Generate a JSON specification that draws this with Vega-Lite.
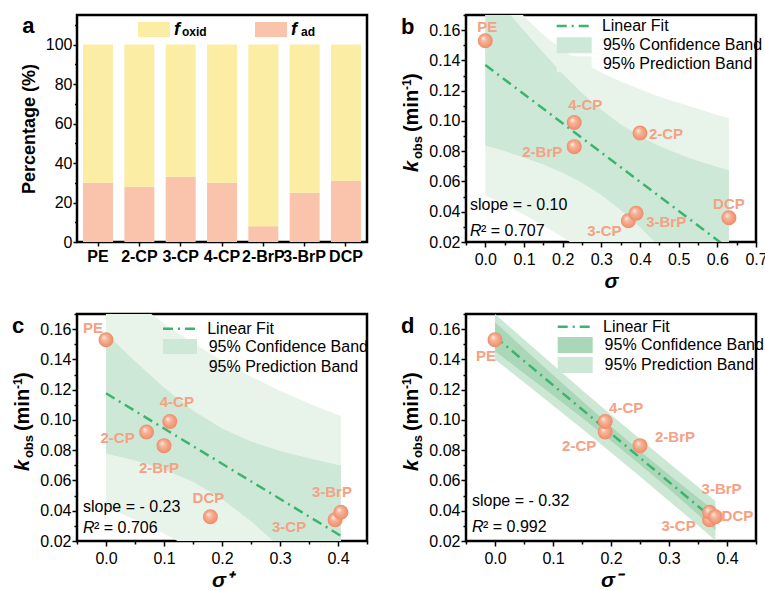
{
  "$schema": "https://vega.github.io/schema/vega-lite/v6.json",
  "background": "white",
  "padding": {"left": 10, "top": 13, "right": 0, "bottom": 0},
  "datasets": {
    "bars": [
      {"cat": "PE", "comp": "f_ad", "value": 30}, {"cat": "PE", "comp": "f_oxid", "value": 70},
      {"cat": "2-CP", "comp": "f_ad", "value": 28}, {"cat": "2-CP", "comp": "f_oxid", "value": 72},
      {"cat": "3-CP", "comp": "f_ad", "value": 33}, {"cat": "3-CP", "comp": "f_oxid", "value": 67},
      {"cat": "4-CP", "comp": "f_ad", "value": 30}, {"cat": "4-CP", "comp": "f_oxid", "value": 70},
      {"cat": "2-BrP", "comp": "f_ad", "value": 8}, {"cat": "2-BrP", "comp": "f_oxid", "value": 92},
      {"cat": "3-BrP", "comp": "f_ad", "value": 25}, {"cat": "3-BrP", "comp": "f_oxid", "value": 75},
      {"cat": "DCP", "comp": "f_ad", "value": 31}, {"cat": "DCP", "comp": "f_oxid", "value": 69}
    ],
    "pts": [
      {"name": "PE", "sigma": 0.0, "sigma_plus": 0.0, "sigma_minus": 0.0, "k": 0.153},
      {"name": "2-CP", "sigma": 0.40, "sigma_plus": 0.07, "sigma_minus": 0.19, "k": 0.092},
      {"name": "3-CP", "sigma": 0.37, "sigma_plus": 0.395, "sigma_minus": 0.37, "k": 0.034},
      {"name": "4-CP", "sigma": 0.23, "sigma_plus": 0.11, "sigma_minus": 0.19, "k": 0.099},
      {"name": "2-BrP", "sigma": 0.23, "sigma_plus": 0.10, "sigma_minus": 0.25, "k": 0.083},
      {"name": "3-BrP", "sigma": 0.39, "sigma_plus": 0.405, "sigma_minus": 0.37, "k": 0.039},
      {"name": "DCP", "sigma": 0.63, "sigma_plus": 0.18, "sigma_minus": 0.38, "k": 0.036}
    ],
    "band_b": [
      {"x": 0.0, "clo": 0.0838, "chi": 0.1902, "plo": 0.0508, "phi": 0.21},
      {"x": 0.05, "clo": 0.0801, "chi": 0.1747, "plo": 0.0447, "phi": 0.188},
      {"x": 0.1, "clo": 0.0758, "chi": 0.1596, "plo": 0.038, "phi": 0.169},
      {"x": 0.15, "clo": 0.0712, "chi": 0.145, "plo": 0.0309, "phi": 0.157},
      {"x": 0.2, "clo": 0.0657, "chi": 0.1311, "plo": 0.0231, "phi": 0.147},
      {"x": 0.25, "clo": 0.0591, "chi": 0.1185, "plo": 0.0148, "phi": 0.139},
      {"x": 0.3, "clo": 0.051, "chi": 0.1072, "plo": 0.0057, "phi": 0.132},
      {"x": 0.35, "clo": 0.0412, "chi": 0.0978, "plo": -0.004, "phi": 0.126},
      {"x": 0.4, "clo": 0.0298, "chi": 0.0898, "plo": -0.0144, "phi": 0.121},
      {"x": 0.45, "clo": 0.0169, "chi": 0.0835, "plo": -0.0254, "phi": 0.116},
      {"x": 0.5, "clo": 0.0028, "chi": 0.0782, "plo": -0.0371, "phi": 0.112},
      {"x": 0.55, "clo": -0.0118, "chi": 0.0736, "plo": -0.0492, "phi": 0.108},
      {"x": 0.6, "clo": -0.0271, "chi": 0.0695, "plo": -0.062, "phi": 0.104},
      {"x": 0.63, "clo": -0.0366, "chi": 0.0674, "plo": -0.07, "phi": 0.102}
    ],
    "band_c": [
      {"x": 0.0, "clo": 0.0779, "chi": 0.1573, "plo": 0.0422, "phi": 0.193},
      {"x": 0.05, "clo": 0.0732, "chi": 0.1388, "plo": 0.0341, "phi": 0.1779},
      {"x": 0.1, "clo": 0.0672, "chi": 0.1214, "plo": 0.0248, "phi": 0.1638},
      {"x": 0.15, "clo": 0.0591, "chi": 0.1063, "plo": 0.0145, "phi": 0.1509},
      {"x": 0.2, "clo": 0.0478, "chi": 0.0944, "plo": 0.003, "phi": 0.1392},
      {"x": 0.25, "clo": 0.033, "chi": 0.0858, "plo": -0.0098, "phi": 0.1286},
      {"x": 0.3, "clo": 0.0161, "chi": 0.0795, "plo": -0.0237, "phi": 0.1193},
      {"x": 0.35, "clo": -0.0023, "chi": 0.0747, "plo": -0.0385, "phi": 0.1109},
      {"x": 0.4, "clo": -0.0213, "chi": 0.0703, "plo": -0.0542, "phi": 0.1032},
      {"x": 0.405, "clo": -0.0235, "chi": 0.0703, "plo": -0.056, "phi": 0.1028}
    ],
    "band_d": [
      {"x": 0.0, "clo": 0.1454, "chi": 0.1646, "plo": 0.14, "phi": 0.17},
      {"x": 0.05, "clo": 0.1309, "chi": 0.1471, "plo": 0.1249, "phi": 0.1531},
      {"x": 0.1, "clo": 0.1163, "chi": 0.1297, "plo": 0.1096, "phi": 0.1364},
      {"x": 0.15, "clo": 0.1015, "chi": 0.1126, "plo": 0.0942, "phi": 0.1198},
      {"x": 0.2, "clo": 0.0863, "chi": 0.0957, "plo": 0.0785, "phi": 0.1035},
      {"x": 0.25, "clo": 0.0706, "chi": 0.0794, "plo": 0.0626, "phi": 0.0874},
      {"x": 0.3, "clo": 0.0543, "chi": 0.0637, "plo": 0.0465, "phi": 0.0715},
      {"x": 0.35, "clo": 0.0375, "chi": 0.0486, "plo": 0.0302, "phi": 0.0558},
      {"x": 0.38, "clo": 0.0272, "chi": 0.0396, "plo": 0.0203, "phi": 0.0465}
    ],
    "fit_b": [{"x": 0.0, "k": 0.137}, {"x": 0.63, "k": 0.0154}],
    "fit_c": [{"x": 0.0, "k": 0.1176}, {"x": 0.405, "k": 0.0234}],
    "fit_d": [{"x": 0.0, "k": 0.155}, {"x": 0.38, "k": 0.0334}],
    "one": [{}]
  },
  "columns": 2,
  "spacing": {"row": 72, "column": 99},
  "bounds": "flush",
  "resolve": {"scale": {"fill": "independent", "color": "independent"}},
  "concat": [
    {
      "width": 290, "height": 227,
      "title": {"text": "a", "offset": -23, "dx": 2},
      "data": {"name": "bars"},
      "resolve": {"axis": {"x": "independent", "y": "independent"}},
      "layer": [
        {
          "transform": [{"calculate": "datum.comp", "as": "comp_sub"}],
          "mark": {"type": "bar"},
          "encoding": {
            "x": {"field": "cat", "type": "nominal", "sort": ["PE", "2-CP", "3-CP", "4-CP", "2-BrP", "3-BrP", "DCP"],
                  "scale": {"paddingInner": 0.274, "paddingOuter": 0.146},
                  "axis": {"title": null, "labelFontWeight": "bold", "labelAngle": 0, "tickSize": 4, "labelPadding": 2, "orient": "bottom"}},
            "y": {"field": "value", "type": "quantitative", "stack": "zero", "scale": {"domain": [0, 115], "nice": false},
                  "axis": {"values": [0, 20, 40, 60, 80, 100], "title": "Percentage (%)", "titlePadding": 7, "tickSize": 4, "orient": "left"}},
            "fill": {"field": "comp", "type": "nominal", "scale": {"domain": ["f_oxid", "f_ad"], "range": ["#fbeda3", "#f9c4ab"]},
                     "legend": {"orient": "none", "legendX": 61, "legendY": 4.5, "direction": "horizontal", "title": null,
                                "symbolType": "M-1.6,-0.75H1.6V0.75H-1.6Z", "symbolSize": 400, "symbolOffset": 6, "symbolStrokeWidth": 0,
                                "labelExpr": "'f'", "labelFontSize": 18, "labelFontStyle": "italic", "labelFontWeight": "bold",
                                "labelOffset": 10, "columnPadding": 75}},
            "opacity": {"field": "comp_sub", "type": "nominal", "scale": {"domain": ["f_oxid", "f_ad"], "range": [1, 1]},
                     "legend": {"orient": "none", "legendX": 93, "legendY": 11, "direction": "horizontal", "title": null,
                                "symbolOpacity": 0, "symbolSize": 1, "symbolStrokeWidth": 0, "symbolType": "square",
                                "labelExpr": "datum.label == 'f_oxid' ? 'oxid' : 'ad'", "labelFontSize": 12, "labelFontWeight": "bold",
                                "labelOffset": 0, "columnPadding": 82}},
            "order": {"field": "comp", "sort": "ascending"}
          }
        },
        {
          "mark": {"type": "point", "opacity": 0},
          "encoding": {
            "x": {"field": "cat", "type": "nominal", "sort": ["PE", "2-CP", "3-CP", "4-CP", "2-BrP", "3-BrP", "DCP"], "axis": null},
            "y": {"field": "value", "type": "quantitative", "axis": {"values": [10, 30, 50, 70, 90, 110], "labels": false, "tickSize": 2.5, "title": null, "orient": "left"}}
          }
        }
      ]
    },
    {
      "width": 290, "height": 227,
      "title": {"text": "b", "offset": -25},
      "resolve": {"axis": {"x": "independent", "y": "independent"}},
      "layer": [
        {
          "data": {"name": "band_b"},
          "mark": {"type": "area", "clip": true},
          "encoding": {
            "x": {"field": "x", "type": "quantitative", "scale": {"domain": [-0.05, 0.7], "nice": false, "zero": false},
                  "axis": {"values": [0, 0.1, 0.2, 0.3, 0.4, 0.5, 0.6, 0.7], "format": ".1f", "title": "σ", "titleFontStyle": "italic", "titleFontSize": 21, "titlePadding": 3, "labelPadding": 4, "orient": "bottom"}},
            "y": {"field": "plo", "type": "quantitative", "scale": {"domain": [0.02, 0.17], "nice": false, "zero": false},
                  "axis": {"values": [0.02, 0.04, 0.06, 0.08, 0.1, 0.12, 0.14, 0.16], "format": ".2f", "title": null, "orient": "left"}},
            "y2": {"field": "phi"},
            "fill": {"datum": "95% Prediction Band", "type": "nominal",
                     "scale": {"domain": ["95% Confidence Band", "95% Prediction Band"], "range": ["#cde8d6", "#e8f4ea"]},
                     "legend": {"orient": "none", "legendX": 90.7, "legendY": 20.3, "title": null, "symbolType": "M-1.75,-0.8H1.75V0.8H-1.75Z", "symbolSize": 400, "symbolOffset": 7.5, "symbolStrokeWidth": 0, "labelOffset": 18.7, "rowPadding": 1}}
          }
        },
        {
          "data": {"name": "band_b"},
          "mark": {"type": "area", "clip": true},
          "encoding": {
            "x": {"field": "x", "type": "quantitative", "axis": {"values": [-0.05, 0.05, 0.15, 0.25, 0.35, 0.45, 0.55, 0.65], "labels": false, "tickSize": 3, "title": null, "orient": "bottom"}},
            "y": {"field": "clo", "type": "quantitative", "axis": {"values": [0.03, 0.05, 0.07, 0.09, 0.11, 0.13, 0.15, 0.17], "labels": false, "tickSize": 3, "title": null, "orient": "left"}},
            "y2": {"field": "chi"},
            "fill": {"datum": "95% Confidence Band", "type": "nominal"}
          }
        },
        {
          "data": {"name": "fit_b"},
          "mark": {"type": "line", "clip": true, "strokeWidth": 2.5, "strokeDash": [10, 5, 2, 5]},
          "encoding": {
            "x": {"field": "x", "type": "quantitative", "axis": null},
            "y": {"field": "k", "type": "quantitative", "axis": null},
            "color": {"datum": "Linear Fit", "type": "nominal", "scale": {"range": ["#3cb46e"]},
                      "legend": {"orient": "none", "legendX": 90.7, "legendY": -0.5, "title": null, "symbolType": "M-1.8,0H1.8", "symbolSize": 400, "symbolOffset": 6.5, "symbolStrokeWidth": 2.5, "symbolDash": [10, 5, 2, 5], "labelOffset": 15.7}}
          }
        },
        {
          "data": {"name": "pts"},
          "mark": {"type": "point", "shape": "circle", "size": 225, "filled": true, "opacity": 1, "strokeWidth": 0,
                   "fill": {"gradient": "radial", "x1": 0.35, "y1": 0.32, "r1": 0, "x2": 0.5, "y2": 0.5, "r2": 0.5,
                            "stops": [{"offset": 0, "color": "#fff4ee"}, {"offset": 0.35, "color": "#f7b69a"}, {"offset": 1, "color": "#ee8b69"}]}},
          "encoding": {"x": {"field": "sigma", "type": "quantitative", "axis": null}, "y": {"field": "k", "type": "quantitative", "axis": null}}
        },
        {"data": {"name": "pts"}, "transform": [{"filter": "datum.name === 'PE'"}], "mark": {"type": "text", "style": "lbl", "color": "#f4a283", "dx": 2, "dy": -14}, "encoding": {"x": {"field": "sigma", "type": "quantitative", "axis": null}, "y": {"field": "k", "type": "quantitative", "axis": null}, "text": {"field": "name"}}},
        {"data": {"name": "pts"}, "transform": [{"filter": "datum.name === '4-CP'"}], "mark": {"type": "text", "style": "lbl", "color": "#f4a283", "dx": 11, "dy": -17}, "encoding": {"x": {"field": "sigma", "type": "quantitative", "axis": null}, "y": {"field": "k", "type": "quantitative", "axis": null}, "text": {"field": "name"}}},
        {"data": {"name": "pts"}, "transform": [{"filter": "datum.name === '2-CP'"}], "mark": {"type": "text", "style": "lbl", "color": "#f4a283", "dx": 26, "dy": 1}, "encoding": {"x": {"field": "sigma", "type": "quantitative", "axis": null}, "y": {"field": "k", "type": "quantitative", "axis": null}, "text": {"field": "name"}}},
        {"data": {"name": "pts"}, "transform": [{"filter": "datum.name === '2-BrP'"}], "mark": {"type": "text", "style": "lbl", "color": "#f4a283", "dx": -32, "dy": 5}, "encoding": {"x": {"field": "sigma", "type": "quantitative", "axis": null}, "y": {"field": "k", "type": "quantitative", "axis": null}, "text": {"field": "name"}}},
        {"data": {"name": "pts"}, "transform": [{"filter": "datum.name === '3-CP'"}], "mark": {"type": "text", "style": "lbl", "color": "#f4a283", "dx": -24, "dy": 10}, "encoding": {"x": {"field": "sigma", "type": "quantitative", "axis": null}, "y": {"field": "k", "type": "quantitative", "axis": null}, "text": {"field": "name"}}},
        {"data": {"name": "pts"}, "transform": [{"filter": "datum.name === '3-BrP'"}], "mark": {"type": "text", "style": "lbl", "color": "#f4a283", "dx": 30, "dy": 9}, "encoding": {"x": {"field": "sigma", "type": "quantitative", "axis": null}, "y": {"field": "k", "type": "quantitative", "axis": null}, "text": {"field": "name"}}},
        {"data": {"name": "pts"}, "transform": [{"filter": "datum.name === 'DCP'"}], "mark": {"type": "text", "style": "lbl", "color": "#f4a283", "dx": 0, "dy": -14}, "encoding": {"x": {"field": "sigma", "type": "quantitative", "axis": null}, "y": {"field": "k", "type": "quantitative", "axis": null}, "text": {"field": "name"}}},
        {"data": {"name": "one"}, "mark": {"type": "text", "style": "note", "color": "black", "text": "slope = - 0.10", "dx": 4}, "encoding": {"x": {"datum": -0.05, "type": "quantitative", "axis": null}, "y": {"datum": 0.0411, "type": "quantitative", "axis": null}}},
        {"data": {"name": "one"}, "mark": {"type": "text", "style": "note", "color": "black", "text": "R", "fontStyle": "italic", "dx": 4}, "encoding": {"x": {"datum": -0.05, "type": "quantitative", "axis": null}, "y": {"datum": 0.0239, "type": "quantitative", "axis": null}}},
        {"data": {"name": "one"}, "mark": {"type": "text", "style": "note", "color": "black", "text": "² = 0.707", "dx": 15}, "encoding": {"x": {"datum": -0.05, "type": "quantitative", "axis": null}, "y": {"datum": 0.0239, "type": "quantitative", "axis": null}}},
        {"data": {"name": "one"}, "mark": {"type": "text", "style": "ytitle", "text": "k", "fontStyle": "italic", "fontSize": 20, "dx": 0, "dy": -48}, "encoding": {"x": {"datum": -0.05, "type": "quantitative", "axis": null}, "y": {"datum": 0.0662, "type": "quantitative", "axis": null}}},
        {"data": {"name": "one"}, "mark": {"type": "text", "style": "ytitle", "text": "obs", "fontSize": 13, "dx": 13, "dy": -44}, "encoding": {"x": {"datum": -0.05, "type": "quantitative", "axis": null}, "y": {"datum": 0.0662, "type": "quantitative", "axis": null}}},
        {"data": {"name": "one"}, "mark": {"type": "text", "style": "ytitle", "text": "(min", "fontSize": 20, "dx": 40, "dy": -48}, "encoding": {"x": {"datum": -0.05, "type": "quantitative", "axis": null}, "y": {"datum": 0.0662, "type": "quantitative", "axis": null}}},
        {"data": {"name": "one"}, "mark": {"type": "text", "style": "ytitle", "text": "-1", "fontSize": 12, "dx": 82, "dy": -55}, "encoding": {"x": {"datum": -0.05, "type": "quantitative", "axis": null}, "y": {"datum": 0.0662, "type": "quantitative", "axis": null}}},
        {"data": {"name": "one"}, "mark": {"type": "text", "style": "ytitle", "text": ")", "fontSize": 20, "dx": 92, "dy": -48}, "encoding": {"x": {"datum": -0.05, "type": "quantitative", "axis": null}, "y": {"datum": 0.0662, "type": "quantitative", "axis": null}}}
      ]
    },
    {
      "width": 290, "height": 227,
      "title": {"text": "c", "offset": -25},
      "resolve": {"axis": {"x": "independent", "y": "independent"}},
      "layer": [
        {
          "data": {"name": "band_c"},
          "mark": {"type": "area", "clip": true},
          "encoding": {
            "x": {"field": "x", "type": "quantitative", "scale": {"domain": [-0.05, 0.45], "nice": false, "zero": false},
                  "axis": {"values": [0, 0.1, 0.2, 0.3, 0.4], "format": ".1f", "title": "σ⁺", "titleFontStyle": "italic", "titleFontSize": 21, "titlePadding": 3, "labelPadding": 4, "orient": "bottom"}},
            "y": {"field": "plo", "type": "quantitative", "scale": {"domain": [0.02, 0.17], "nice": false, "zero": false},
                  "axis": {"values": [0.02, 0.04, 0.06, 0.08, 0.1, 0.12, 0.14, 0.16], "format": ".2f", "title": null, "orient": "left"}},
            "y2": {"field": "phi"},
            "fill": {"datum": "95% Prediction Band", "type": "nominal",
                     "scale": {"domain": ["95% Confidence Band", "95% Prediction Band"], "range": ["#cde8d6", "#e8f4ea"]},
                     "legend": {"orient": "none", "legendX": 86, "legendY": 22.5, "title": null, "symbolType": "M-1.7,-0.75H1.7V0.75H-1.7Z", "symbolSize": 400, "symbolOffset": 7, "symbolStrokeWidth": 0, "labelOffset": 18.7, "rowPadding": 2}}
          }
        },
        {
          "data": {"name": "band_c"},
          "mark": {"type": "area", "clip": true},
          "encoding": {
            "x": {"field": "x", "type": "quantitative", "axis": {"values": [-0.05, 0.05, 0.15, 0.25, 0.35, 0.45], "labels": false, "tickSize": 3, "title": null, "orient": "bottom"}},
            "y": {"field": "clo", "type": "quantitative", "axis": {"values": [0.03, 0.05, 0.07, 0.09, 0.11, 0.13, 0.15, 0.17], "labels": false, "tickSize": 3, "title": null, "orient": "left"}},
            "y2": {"field": "chi"},
            "fill": {"datum": "95% Confidence Band", "type": "nominal"}
          }
        },
        {
          "data": {"name": "fit_c"},
          "mark": {"type": "line", "clip": true, "strokeWidth": 2.5, "strokeDash": [10, 5, 2, 5]},
          "encoding": {
            "x": {"field": "x", "type": "quantitative", "axis": null},
            "y": {"field": "k", "type": "quantitative", "axis": null},
            "color": {"datum": "Linear Fit", "type": "nominal", "scale": {"range": ["#3cb46e"]},
                      "legend": {"orient": "none", "legendX": 86, "legendY": 3.2, "title": null, "symbolType": "M-1.7,0H1.7", "symbolSize": 400, "symbolOffset": 5.5, "symbolStrokeWidth": 2.5, "symbolDash": [10, 5, 2, 5], "labelOffset": 15.7}}
          }
        },
        {
          "data": {"name": "pts"},
          "mark": {"type": "point", "shape": "circle", "size": 225, "filled": true, "opacity": 1, "strokeWidth": 0,
                   "fill": {"gradient": "radial", "x1": 0.35, "y1": 0.32, "r1": 0, "x2": 0.5, "y2": 0.5, "r2": 0.5,
                            "stops": [{"offset": 0, "color": "#fff4ee"}, {"offset": 0.35, "color": "#f7b69a"}, {"offset": 1, "color": "#ee8b69"}]}},
          "encoding": {"x": {"field": "sigma_plus", "type": "quantitative", "axis": null}, "y": {"field": "k", "type": "quantitative", "axis": null}}
        },
        {"data": {"name": "pts"}, "transform": [{"filter": "datum.name === 'PE'"}], "mark": {"type": "text", "style": "lbl", "color": "#f4a283", "dx": -13, "dy": -12}, "encoding": {"x": {"field": "sigma_plus", "type": "quantitative", "axis": null}, "y": {"field": "k", "type": "quantitative", "axis": null}, "text": {"field": "name"}}},
        {"data": {"name": "pts"}, "transform": [{"filter": "datum.name === '4-CP'"}], "mark": {"type": "text", "style": "lbl", "color": "#f4a283", "dx": 7, "dy": -19}, "encoding": {"x": {"field": "sigma_plus", "type": "quantitative", "axis": null}, "y": {"field": "k", "type": "quantitative", "axis": null}, "text": {"field": "name"}}},
        {"data": {"name": "pts"}, "transform": [{"filter": "datum.name === '2-CP'"}], "mark": {"type": "text", "style": "lbl", "color": "#f4a283", "dx": -29, "dy": 6}, "encoding": {"x": {"field": "sigma_plus", "type": "quantitative", "axis": null}, "y": {"field": "k", "type": "quantitative", "axis": null}, "text": {"field": "name"}}},
        {"data": {"name": "pts"}, "transform": [{"filter": "datum.name === '2-BrP'"}], "mark": {"type": "text", "style": "lbl", "color": "#f4a283", "dx": -5, "dy": 22}, "encoding": {"x": {"field": "sigma_plus", "type": "quantitative", "axis": null}, "y": {"field": "k", "type": "quantitative", "axis": null}, "text": {"field": "name"}}},
        {"data": {"name": "pts"}, "transform": [{"filter": "datum.name === 'DCP'"}], "mark": {"type": "text", "style": "lbl", "color": "#f4a283", "dx": -2, "dy": -19}, "encoding": {"x": {"field": "sigma_plus", "type": "quantitative", "axis": null}, "y": {"field": "k", "type": "quantitative", "axis": null}, "text": {"field": "name"}}},
        {"data": {"name": "pts"}, "transform": [{"filter": "datum.name === '3-CP'"}], "mark": {"type": "text", "style": "lbl", "color": "#f4a283", "dx": -46, "dy": 7}, "encoding": {"x": {"field": "sigma_plus", "type": "quantitative", "axis": null}, "y": {"field": "k", "type": "quantitative", "axis": null}, "text": {"field": "name"}}},
        {"data": {"name": "pts"}, "transform": [{"filter": "datum.name === '3-BrP'"}], "mark": {"type": "text", "style": "lbl", "color": "#f4a283", "dx": -9, "dy": -20}, "encoding": {"x": {"field": "sigma_plus", "type": "quantitative", "axis": null}, "y": {"field": "k", "type": "quantitative", "axis": null}, "text": {"field": "name"}}},
        {"data": {"name": "one"}, "mark": {"type": "text", "style": "note", "color": "black", "text": "slope = - 0.23", "dx": 6}, "encoding": {"x": {"datum": -0.05, "type": "quantitative", "axis": null}, "y": {"datum": 0.0394, "type": "quantitative", "axis": null}}},
        {"data": {"name": "one"}, "mark": {"type": "text", "style": "note", "color": "black", "text": "R", "fontStyle": "italic", "dx": 6}, "encoding": {"x": {"datum": -0.05, "type": "quantitative", "axis": null}, "y": {"datum": 0.025, "type": "quantitative", "axis": null}}},
        {"data": {"name": "one"}, "mark": {"type": "text", "style": "note", "color": "black", "text": "² = 0.706", "dx": 17}, "encoding": {"x": {"datum": -0.05, "type": "quantitative", "axis": null}, "y": {"datum": 0.025, "type": "quantitative", "axis": null}}},
        {"data": {"name": "one"}, "mark": {"type": "text", "style": "ytitle", "text": "k", "fontStyle": "italic", "fontSize": 20, "dx": 0, "dy": -48}, "encoding": {"x": {"datum": -0.05, "type": "quantitative", "axis": null}, "y": {"datum": 0.0662, "type": "quantitative", "axis": null}}},
        {"data": {"name": "one"}, "mark": {"type": "text", "style": "ytitle", "text": "obs", "fontSize": 13, "dx": 13, "dy": -44}, "encoding": {"x": {"datum": -0.05, "type": "quantitative", "axis": null}, "y": {"datum": 0.0662, "type": "quantitative", "axis": null}}},
        {"data": {"name": "one"}, "mark": {"type": "text", "style": "ytitle", "text": "(min", "fontSize": 20, "dx": 40, "dy": -48}, "encoding": {"x": {"datum": -0.05, "type": "quantitative", "axis": null}, "y": {"datum": 0.0662, "type": "quantitative", "axis": null}}},
        {"data": {"name": "one"}, "mark": {"type": "text", "style": "ytitle", "text": "-1", "fontSize": 12, "dx": 82, "dy": -55}, "encoding": {"x": {"datum": -0.05, "type": "quantitative", "axis": null}, "y": {"datum": 0.0662, "type": "quantitative", "axis": null}}},
        {"data": {"name": "one"}, "mark": {"type": "text", "style": "ytitle", "text": ")", "fontSize": 20, "dx": 92, "dy": -48}, "encoding": {"x": {"datum": -0.05, "type": "quantitative", "axis": null}, "y": {"datum": 0.0662, "type": "quantitative", "axis": null}}}
      ]
    },
    {
      "width": 290, "height": 227,
      "title": {"text": "d", "offset": -25},
      "resolve": {"axis": {"x": "independent", "y": "independent"}},
      "layer": [
        {
          "data": {"name": "band_d"},
          "mark": {"type": "area", "clip": true},
          "encoding": {
            "x": {"field": "x", "type": "quantitative", "scale": {"domain": [-0.05, 0.45], "nice": false, "zero": false},
                  "axis": {"values": [0, 0.1, 0.2, 0.3, 0.4], "format": ".1f", "title": "σ⁻", "titleFontStyle": "italic", "titleFontSize": 21, "titlePadding": 3, "labelPadding": 4, "orient": "bottom"}},
            "y": {"field": "plo", "type": "quantitative", "scale": {"domain": [0.02, 0.17], "nice": false, "zero": false},
                  "axis": {"values": [0.02, 0.04, 0.06, 0.08, 0.1, 0.12, 0.14, 0.16], "format": ".2f", "title": null, "orient": "left"}},
            "y2": {"field": "phi"},
            "fill": {"datum": "95% Prediction Band", "type": "nominal",
                     "scale": {"domain": ["95% Confidence Band", "95% Prediction Band"], "range": ["#a9d7b8", "#cce7d4"]},
                     "legend": {"orient": "none", "legendX": 92.3, "legendY": 21, "title": null, "symbolType": "M-1.75,-0.8H1.75V0.8H-1.75Z", "symbolSize": 400, "symbolOffset": 6.9, "symbolStrokeWidth": 0, "labelOffset": 19.4, "rowPadding": 2}}
          }
        },
        {
          "data": {"name": "band_d"},
          "mark": {"type": "area", "clip": true},
          "encoding": {
            "x": {"field": "x", "type": "quantitative", "axis": {"values": [-0.05, 0.05, 0.15, 0.25, 0.35, 0.45], "labels": false, "tickSize": 3, "title": null, "orient": "bottom"}},
            "y": {"field": "clo", "type": "quantitative", "axis": {"values": [0.03, 0.05, 0.07, 0.09, 0.11, 0.13, 0.15, 0.17], "labels": false, "tickSize": 3, "title": null, "orient": "left"}},
            "y2": {"field": "chi"},
            "fill": {"datum": "95% Confidence Band", "type": "nominal"}
          }
        },
        {
          "data": {"name": "fit_d"},
          "mark": {"type": "line", "clip": true, "strokeWidth": 2.5, "strokeDash": [10, 5, 2, 5]},
          "encoding": {
            "x": {"field": "x", "type": "quantitative", "axis": null},
            "y": {"field": "k", "type": "quantitative", "axis": null},
            "color": {"datum": "Linear Fit", "type": "nominal", "scale": {"range": ["#3cb46e"]},
                      "legend": {"orient": "none", "legendX": 92.3, "legendY": 1.2, "title": null, "symbolType": "M-1.75,0H1.75", "symbolSize": 400, "symbolOffset": 5.4, "symbolStrokeWidth": 2.5, "symbolDash": [10, 5, 2, 5], "labelOffset": 16.4}}
          }
        },
        {
          "data": {"name": "pts"},
          "mark": {"type": "point", "shape": "circle", "size": 225, "filled": true, "opacity": 1, "strokeWidth": 0,
                   "fill": {"gradient": "radial", "x1": 0.35, "y1": 0.32, "r1": 0, "x2": 0.5, "y2": 0.5, "r2": 0.5,
                            "stops": [{"offset": 0, "color": "#fff4ee"}, {"offset": 0.35, "color": "#f7b69a"}, {"offset": 1, "color": "#ee8b69"}]}},
          "encoding": {"x": {"field": "sigma_minus", "type": "quantitative", "axis": null}, "y": {"field": "k", "type": "quantitative", "axis": null}}
        },
        {"data": {"name": "pts"}, "transform": [{"filter": "datum.name === 'PE'"}], "mark": {"type": "text", "style": "lbl", "color": "#f4a283", "dx": -9, "dy": 16}, "encoding": {"x": {"field": "sigma_minus", "type": "quantitative", "axis": null}, "y": {"field": "k", "type": "quantitative", "axis": null}, "text": {"field": "name"}}},
        {"data": {"name": "pts"}, "transform": [{"filter": "datum.name === '4-CP'"}], "mark": {"type": "text", "style": "lbl", "color": "#f4a283", "dx": 21, "dy": -13}, "encoding": {"x": {"field": "sigma_minus", "type": "quantitative", "axis": null}, "y": {"field": "k", "type": "quantitative", "axis": null}, "text": {"field": "name"}}},
        {"data": {"name": "pts"}, "transform": [{"filter": "datum.name === '2-CP'"}], "mark": {"type": "text", "style": "lbl", "color": "#f4a283", "dx": -26, "dy": 14}, "encoding": {"x": {"field": "sigma_minus", "type": "quantitative", "axis": null}, "y": {"field": "k", "type": "quantitative", "axis": null}, "text": {"field": "name"}}},
        {"data": {"name": "pts"}, "transform": [{"filter": "datum.name === '2-BrP'"}], "mark": {"type": "text", "style": "lbl", "color": "#f4a283", "dx": 35, "dy": -9}, "encoding": {"x": {"field": "sigma_minus", "type": "quantitative", "axis": null}, "y": {"field": "k", "type": "quantitative", "axis": null}, "text": {"field": "name"}}},
        {"data": {"name": "pts"}, "transform": [{"filter": "datum.name === '3-BrP'"}], "mark": {"type": "text", "style": "lbl", "color": "#f4a283", "dx": 12, "dy": -23}, "encoding": {"x": {"field": "sigma_minus", "type": "quantitative", "axis": null}, "y": {"field": "k", "type": "quantitative", "axis": null}, "text": {"field": "name"}}},
        {"data": {"name": "pts"}, "transform": [{"filter": "datum.name === '3-CP'"}], "mark": {"type": "text", "style": "lbl", "color": "#f4a283", "dx": -31, "dy": 6}, "encoding": {"x": {"field": "sigma_minus", "type": "quantitative", "axis": null}, "y": {"field": "k", "type": "quantitative", "axis": null}, "text": {"field": "name"}}},
        {"data": {"name": "pts"}, "transform": [{"filter": "datum.name === 'DCP'"}], "mark": {"type": "text", "style": "lbl", "color": "#f4a283", "dx": 22, "dy": -1}, "encoding": {"x": {"field": "sigma_minus", "type": "quantitative", "axis": null}, "y": {"field": "k", "type": "quantitative", "axis": null}, "text": {"field": "name"}}},
        {"data": {"name": "one"}, "mark": {"type": "text", "style": "note", "color": "black", "text": "slope = - 0.32", "dx": 6}, "encoding": {"x": {"datum": -0.05, "type": "quantitative", "axis": null}, "y": {"datum": 0.0433, "type": "quantitative", "axis": null}}},
        {"data": {"name": "one"}, "mark": {"type": "text", "style": "note", "color": "black", "text": "R", "fontStyle": "italic", "dx": 6}, "encoding": {"x": {"datum": -0.05, "type": "quantitative", "axis": null}, "y": {"datum": 0.0261, "type": "quantitative", "axis": null}}},
        {"data": {"name": "one"}, "mark": {"type": "text", "style": "note", "color": "black", "text": "² = 0.992", "dx": 17}, "encoding": {"x": {"datum": -0.05, "type": "quantitative", "axis": null}, "y": {"datum": 0.0261, "type": "quantitative", "axis": null}}},
        {"data": {"name": "one"}, "mark": {"type": "text", "style": "ytitle", "text": "k", "fontStyle": "italic", "fontSize": 20, "dx": 0, "dy": -48}, "encoding": {"x": {"datum": -0.05, "type": "quantitative", "axis": null}, "y": {"datum": 0.0662, "type": "quantitative", "axis": null}}},
        {"data": {"name": "one"}, "mark": {"type": "text", "style": "ytitle", "text": "obs", "fontSize": 13, "dx": 13, "dy": -44}, "encoding": {"x": {"datum": -0.05, "type": "quantitative", "axis": null}, "y": {"datum": 0.0662, "type": "quantitative", "axis": null}}},
        {"data": {"name": "one"}, "mark": {"type": "text", "style": "ytitle", "text": "(min", "fontSize": 20, "dx": 40, "dy": -48}, "encoding": {"x": {"datum": -0.05, "type": "quantitative", "axis": null}, "y": {"datum": 0.0662, "type": "quantitative", "axis": null}}},
        {"data": {"name": "one"}, "mark": {"type": "text", "style": "ytitle", "text": "-1", "fontSize": 12, "dx": 82, "dy": -55}, "encoding": {"x": {"datum": -0.05, "type": "quantitative", "axis": null}, "y": {"datum": 0.0662, "type": "quantitative", "axis": null}}},
        {"data": {"name": "one"}, "mark": {"type": "text", "style": "ytitle", "text": ")", "fontSize": 20, "dx": 92, "dy": -48}, "encoding": {"x": {"datum": -0.05, "type": "quantitative", "axis": null}, "y": {"datum": 0.0662, "type": "quantitative", "axis": null}}}
      ]
    }
  ],
  "config": {
    "font": "Liberation Sans",
    "view": {"stroke": "black", "strokeWidth": 2.5},
    "axis": {"domain": false, "grid": false, "tickColor": "black", "tickWidth": 1.5, "tickSize": 5, "labelColor": "black", "labelFontSize": 16, "labelPadding": 1,
             "titleColor": "black", "titleFontSize": 18, "titleFontWeight": "bold", "labelFont": "Liberation Sans", "titleFont": "Liberation Sans",
             "labelOverlap": false, "labelBound": false, "labelFlush": false},
    "legend": {"labelFontSize": 16, "labelColor": "black", "labelFont": "Liberation Sans", "padding": 0},
    "title": {"font": "Liberation Sans", "fontSize": 22, "fontWeight": "bold", "anchor": "start", "frame": "bounds", "baseline": "alphabetic", "color": "black"},
    "style": {
      "lbl": {"font": "Liberation Sans", "fontSize": 15, "fontWeight": "bold", "align": "center", "baseline": "middle"},
      "note": {"font": "Liberation Sans", "fontSize": 16, "align": "left", "baseline": "alphabetic"},
      "ytitle": {"font": "Liberation Sans", "fontWeight": "bold", "color": "black", "fill": "black", "angle": 270, "align": "left", "baseline": "alphabetic"}
    }
  }
}
